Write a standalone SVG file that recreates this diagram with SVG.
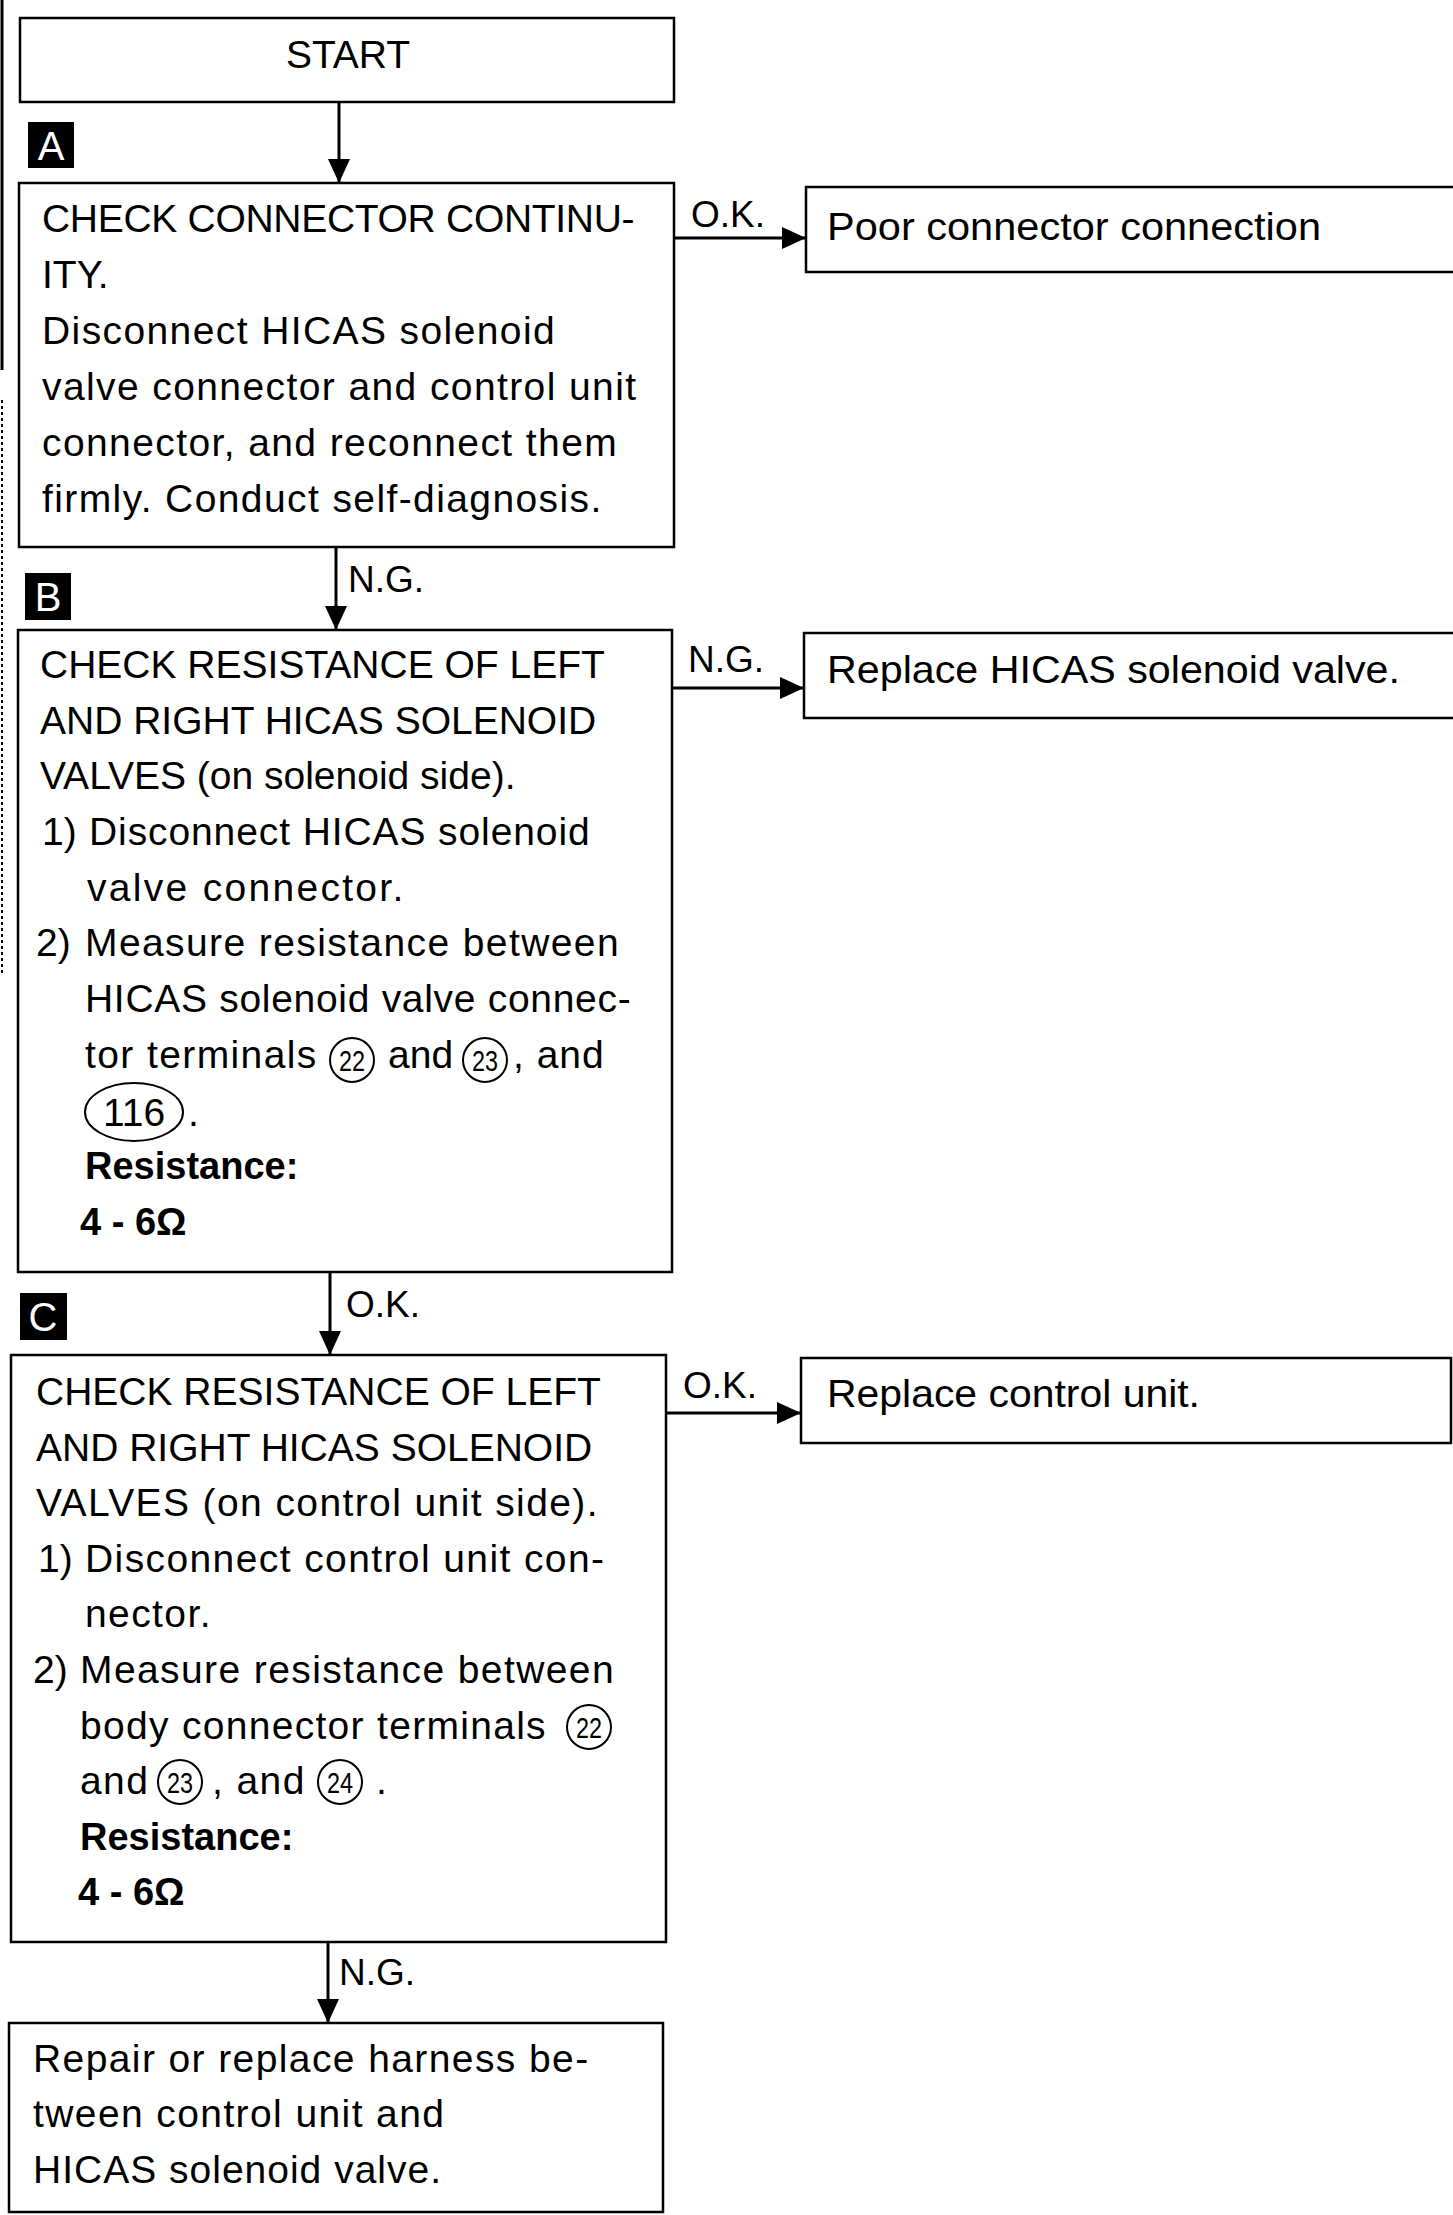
<svg xmlns="http://www.w3.org/2000/svg" width="1453" height="2215" viewBox="0 0 1453 2215">
<style>
.box{fill:none;stroke:#000;stroke-width:2.5}
.t{font-family:"Liberation Sans",Arial,sans-serif;font-size:39px;fill:#000}
.m{letter-spacing:1.4px}
.b{font-weight:bold;font-size:38px}
.lbl{font-family:"Liberation Sans",Arial,sans-serif;font-size:37px;fill:#000}
.edge{fill:none;stroke:#000;stroke-width:3}
.tag{fill:#000}
.tagt{font-family:"Liberation Sans",Arial,sans-serif;font-size:40px;fill:#fff;text-anchor:middle}
.circ{fill:none;stroke:#000;stroke-width:2}
.cn{font-family:"Liberation Sans",Arial,sans-serif;font-size:30px;fill:#000;text-anchor:middle}
</style>
<defs>
<marker id="ah" markerUnits="userSpaceOnUse" markerWidth="24" markerHeight="22" refX="24" refY="11" orient="auto">
<path d="M0,0 L24,11 L0,22 Z" fill="#000"/>
</marker>
</defs>
<rect width="1453" height="2215" fill="#fff"/>
<g id="margin">
<line x1="2" y1="0" x2="2" y2="370" stroke="#000" stroke-width="3"/>
<line x1="2" y1="400" x2="2" y2="975" stroke="#000" stroke-width="2" stroke-dasharray="3,3"/>
</g>
<g id="start">
<rect class="box" x="20" y="18" width="654" height="84"/>
<text class="t" x="348" y="68" text-anchor="middle">START</text>
</g>
<g id="tagA"><rect class="tag" x="28" y="122" width="46" height="46"/><text class="tagt" x="51" y="160">A</text></g>
<g id="tagB"><rect class="tag" x="25" y="573" width="46" height="47"/><text class="tagt" x="48" y="611">B</text></g>
<g id="tagC"><rect class="tag" x="20" y="1293" width="47" height="47"/><text class="tagt" x="43" y="1331">C</text></g>
<g id="boxA">
<rect class="box" x="19" y="183" width="655" height="364"/>
<text class="t" x="42" y="232" letter-spacing="-0.3">CHECK CONNECTOR CONTINU-</text>
<text class="t" x="42" y="288">ITY.</text>
<text class="t m" x="42" y="344">Disconnect HICAS solenoid</text>
<text class="t m" x="42" y="400">valve connector and control unit</text>
<text class="t m" x="42" y="456">connector, and reconnect them</text>
<text class="t m" x="42" y="512">firmly. Conduct self-diagnosis.</text>
</g>
<g id="poor">
<path class="box" d="M1453,187 H806 V272 H1453"/>
<text class="t" x="827" y="240" textLength="494" lengthAdjust="spacingAndGlyphs">Poor connector connection</text>
</g>
<g id="boxB">
<rect class="box" x="18" y="630" width="654" height="642"/>
<text class="t" x="40" y="678">CHECK RESISTANCE OF LEFT</text>
<text class="t" x="40" y="734">AND RIGHT HICAS SOLENOID</text>
<text class="t" x="40" y="789">VALVES (on solenoid side).</text>
<text class="t" x="42" y="845">1)</text>
<text class="t" x="89" y="845" letter-spacing="0.9">Disconnect HICAS solenoid</text>
<text class="t" x="87" y="901" letter-spacing="2.3">valve connector.</text>
<text class="t" x="36" y="956">2)</text>
<text class="t m" x="85" y="956">Measure resistance between</text>
<text class="t" x="85" y="1012" letter-spacing="0.7">HICAS solenoid valve connec-</text>
<text class="t m" x="85" y="1068">tor terminals</text>
<circle class="circ" cx="352" cy="1060" r="22"/>
<text class="cn" x="352" y="1071" textLength="26" lengthAdjust="spacingAndGlyphs">22</text>
<text class="t" x="388" y="1068">and</text>
<circle class="circ" cx="485" cy="1060" r="22"/>
<text class="cn" x="485" y="1071" textLength="26" lengthAdjust="spacingAndGlyphs">23</text>
<text class="t" x="513" y="1068" letter-spacing="1">, and</text>
<ellipse class="circ" cx="134" cy="1112" rx="49" ry="29"/>
<text class="t" x="134" y="1126" text-anchor="middle">116</text>
<text class="t" x="188" y="1126">.</text>
<text class="t b" x="85" y="1179">Resistance:</text>
<text class="t b" x="80" y="1235">4 - 6Ω</text>
</g>
<g id="replaceValve">
<path class="box" d="M1453,633 H804 V718 H1453"/>
<text class="t" x="827" y="683" textLength="573" lengthAdjust="spacingAndGlyphs">Replace HICAS solenoid valve.</text>
</g>
<g id="boxC">
<rect class="box" x="11" y="1355" width="655" height="587"/>
<text class="t" x="36" y="1405">CHECK RESISTANCE OF LEFT</text>
<text class="t" x="36" y="1461">AND RIGHT HICAS SOLENOID</text>
<text class="t m" x="36" y="1516">VALVES (on control unit side).</text>
<text class="t" x="38" y="1572">1)</text>
<text class="t m" x="85" y="1572">Disconnect control unit con-</text>
<text class="t m" x="85" y="1627">nector.</text>
<text class="t" x="33" y="1683">2)</text>
<text class="t m" x="80" y="1683">Measure resistance between</text>
<text class="t" x="80" y="1739" letter-spacing="1.3">body connector terminals</text>
<circle class="circ" cx="589" cy="1727" r="22"/>
<text class="cn" x="589" y="1738" textLength="26" lengthAdjust="spacingAndGlyphs">22</text>
<text class="t m" x="80" y="1794">and</text>
<circle class="circ" cx="180" cy="1782" r="22"/>
<text class="cn" x="180" y="1793" textLength="26" lengthAdjust="spacingAndGlyphs">23</text>
<text class="t m" x="212" y="1794">, and</text>
<circle class="circ" cx="340" cy="1782" r="22"/>
<text class="cn" x="340" y="1793" textLength="26" lengthAdjust="spacingAndGlyphs">24</text>
<text class="t" x="376" y="1794">.</text>
<text class="t b" x="80" y="1850">Resistance:</text>
<text class="t b" x="78" y="1905">4 - 6Ω</text>
</g>
<g id="replaceUnit">
<rect class="box" x="801" y="1358" width="650" height="85"/>
<text class="t" x="827" y="1407" textLength="373" lengthAdjust="spacingAndGlyphs">Replace control unit.</text>
</g>
<g id="repair">
<rect class="box" x="9" y="2023" width="654" height="189"/>
<text class="t m" x="33" y="2072">Repair or replace harness be-</text>
<text class="t m" x="33" y="2127">tween control unit and</text>
<text class="t" x="33" y="2183" letter-spacing="1">HICAS solenoid valve.</text>
</g>
<g id="connectors">
<line class="edge" x1="339" y1="102" x2="339" y2="183" marker-end="url(#ah)"/>
<line class="edge" x1="674" y1="238" x2="806" y2="238" marker-end="url(#ah)"/>
<text class="lbl" x="691" y="227">O.K.</text>
<line class="edge" x1="336" y1="547" x2="336" y2="630" marker-end="url(#ah)"/>
<text class="lbl" x="348" y="592">N.G.</text>
<line class="edge" x1="672" y1="688" x2="804" y2="688" marker-end="url(#ah)"/>
<text class="lbl" x="688" y="672">N.G.</text>
<line class="edge" x1="330" y1="1272" x2="330" y2="1355" marker-end="url(#ah)"/>
<text class="lbl" x="346" y="1317">O.K.</text>
<line class="edge" x1="666" y1="1413" x2="801" y2="1413" marker-end="url(#ah)"/>
<text class="lbl" x="683" y="1398">O.K.</text>
<line class="edge" x1="328" y1="1942" x2="328" y2="2023" marker-end="url(#ah)"/>
<text class="lbl" x="339" y="1985">N.G.</text>
</g>
</svg>
